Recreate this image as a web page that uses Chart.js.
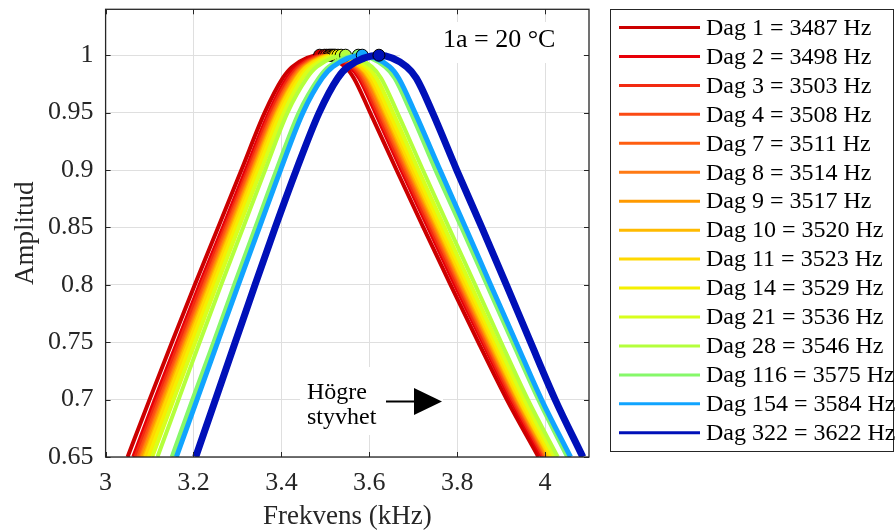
<!DOCTYPE html>
<html>
<head>
<meta charset="utf-8">
<script src="https://cdn.jsdelivr.net/npm/chart.js@4"></script>
<style>
  html, body { margin: 0; padding: 0; background: #fff; }
  canvas { display: block; }
</style>
</head>
<body>
<canvas id="chart" width="895" height="530"></canvas>
<script>
// amplitude levels shared by every curve (left flank, peak, right flank)
const ampLevels = [0.65, 0.70, 0.75, 0.80, 0.85, 0.90, 0.95, 0.98, 0.99, 1.00, 0.99, 0.98, 0.95, 0.90, 0.85, 0.80, 0.75, 0.70, 0.65];

const days = [1, 2, 3, 4, 7, 8, 9, 10, 11, 14, 21, 28, 116, 154, 322];
const peakHz = [3487, 3498, 3503, 3508, 3511, 3514, 3517, 3520, 3523, 3529, 3536, 3546, 3575, 3584, 3622];

// frequency (kHz) at the amplitude levels above
const curveFreqs = [
    [3.050, 3.100, 3.151, 3.203, 3.256, 3.309, 3.362, 3.403, 3.425, 3.487, 3.545, 3.565, 3.602, 3.662, 3.723, 3.785, 3.848, 3.913, 3.985],
    [3.063, 3.112, 3.163, 3.214, 3.267, 3.319, 3.372, 3.413, 3.435, 3.498, 3.556, 3.577, 3.614, 3.673, 3.734, 3.795, 3.858, 3.922, 3.993],
    [3.068, 3.118, 3.168, 3.219, 3.272, 3.324, 3.376, 3.418, 3.440, 3.503, 3.562, 3.582, 3.619, 3.678, 3.739, 3.800, 3.862, 3.926, 3.997],
    [3.074, 3.123, 3.174, 3.225, 3.276, 3.328, 3.381, 3.423, 3.445, 3.508, 3.567, 3.587, 3.624, 3.683, 3.744, 3.805, 3.867, 3.930, 4.001],
    [3.078, 3.127, 3.177, 3.228, 3.279, 3.331, 3.383, 3.425, 3.448, 3.511, 3.570, 3.590, 3.627, 3.686, 3.747, 3.808, 3.869, 3.933, 4.003],
    [3.081, 3.130, 3.180, 3.231, 3.282, 3.334, 3.386, 3.428, 3.451, 3.514, 3.573, 3.593, 3.630, 3.689, 3.750, 3.810, 3.872, 3.935, 4.005],
    [3.084, 3.133, 3.183, 3.234, 3.285, 3.336, 3.389, 3.431, 3.453, 3.517, 3.576, 3.597, 3.634, 3.692, 3.753, 3.813, 3.874, 3.937, 4.007],
    [3.088, 3.137, 3.186, 3.237, 3.288, 3.339, 3.391, 3.434, 3.456, 3.520, 3.579, 3.600, 3.637, 3.695, 3.756, 3.816, 3.877, 3.940, 4.010],
    [3.091, 3.140, 3.190, 3.240, 3.291, 3.342, 3.394, 3.436, 3.459, 3.523, 3.582, 3.603, 3.640, 3.699, 3.759, 3.819, 3.880, 3.942, 4.012],
    [3.098, 3.147, 3.196, 3.246, 3.296, 3.347, 3.399, 3.442, 3.465, 3.529, 3.589, 3.609, 3.646, 3.705, 3.764, 3.825, 3.885, 3.947, 4.016],
    [3.106, 3.155, 3.204, 3.253, 3.303, 3.354, 3.406, 3.448, 3.471, 3.536, 3.596, 3.617, 3.654, 3.712, 3.771, 3.831, 3.891, 3.953, 4.022],
    [3.118, 3.166, 3.214, 3.263, 3.313, 3.363, 3.414, 3.458, 3.481, 3.546, 3.606, 3.627, 3.664, 3.722, 3.781, 3.841, 3.900, 3.961, 4.029],
    [3.151, 3.198, 3.246, 3.293, 3.341, 3.389, 3.440, 3.485, 3.508, 3.575, 3.636, 3.658, 3.695, 3.751, 3.810, 3.868, 3.926, 3.985, 4.051],
    [3.161, 3.208, 3.255, 3.302, 3.350, 3.398, 3.449, 3.493, 3.517, 3.584, 3.646, 3.667, 3.704, 3.761, 3.819, 3.876, 3.934, 3.992, 4.058],
    [3.205, 3.250, 3.295, 3.340, 3.386, 3.434, 3.486, 3.528, 3.552, 3.622, 3.685, 3.707, 3.744, 3.799, 3.856, 3.912, 3.967, 4.023, 4.086]
];

const lineColors = ['#cc0000', '#e80008', '#f22a12', '#fb4a14', '#ff5e10', '#ff7a14', '#ff9a00', '#ffba00', '#ffd800', '#f5f000',
                    '#d8ff1c', '#b4ff3c', '#86f86a', '#10a4ff', '#0010b8'];
const lineWidths = [4, 4, 4, 4, 4, 4, 4, 4, 4, 4, 4, 4, 4.5, 5, 7];

const xTicks = [3, 3.2, 3.4, 3.6, 3.8, 4];
const yTicks = [0.65, 0.7, 0.75, 0.8, 0.85, 0.9, 0.95, 1];
const PEAK = 9;

const SERIF = "'Liberation Serif', 'Times New Roman', serif";
const AXIS_COLOR = '#262626';

const datasets = days.map((d, i) => ({
    label: `Dag ${d} = ${peakHz[i]} Hz`,
    data: curveFreqs[i].map((f, k) => ({ x: f, y: ampLevels[k] })),
    borderColor: lineColors[i],
    backgroundColor: lineColors[i],
    borderWidth: lineWidths[i],
    cubicInterpolationMode: 'monotone',
    fill: false,
    order: days.length - i,
    pointRadius: ctx => ctx.dataIndex === PEAK ? 6 : 0,
    pointBackgroundColor: lineColors[i],
    pointBorderColor: '#000',
    pointBorderWidth: 1
}));

// white boxes behind the text annotations (drawn over grid, under curves)
const boxPlugin = {
    id: 'boxes',
    beforeDatasetsDraw(chart) {
        const ctx = chart.ctx;
        ctx.save();
        ctx.fillStyle = '#fff';
        ctx.fillRect(400, 22, 183, 41);
        ctx.fillRect(300, 367, 143, 68);
        ctx.restore();
    }
};

// axes box with inward ticks, annotations and legend
const decoPlugin = {
    id: 'deco',
    afterDatasetsDraw(chart) {
        const ctx = chart.ctx;
        const a = chart.chartArea;
        const xs = chart.scales.x, ys = chart.scales.y;
        ctx.save();

        ctx.strokeStyle = AXIS_COLOR;
        ctx.lineWidth = 1;
        ctx.beginPath();
        xTicks.forEach(v => {
            const px = Math.round(xs.getPixelForValue(v)) + 0.5;
            ctx.moveTo(px, a.bottom); ctx.lineTo(px, a.bottom - 5);
            ctx.moveTo(px, a.top); ctx.lineTo(px, a.top + 5);
        });
        yTicks.forEach(v => {
            const py = Math.round(ys.getPixelForValue(v)) + 0.5;
            ctx.moveTo(a.left, py); ctx.lineTo(a.left + 5, py);
            ctx.moveTo(a.right, py); ctx.lineTo(a.right - 5, py);
        });
        ctx.stroke();
        ctx.lineWidth = 1.3;
        ctx.strokeRect(a.left, a.top, a.right - a.left, a.bottom - a.top);

        // text annotations
        ctx.fillStyle = '#000';
        ctx.textBaseline = 'alphabetic';
        ctx.textAlign = 'left';
        ctx.font = `26px ${SERIF}`;
        ctx.fillText('1a = 20 °C', 443, 47);
        ctx.font = `24px ${SERIF}`;
        ctx.fillText('Högre', 307, 399);
        ctx.fillText('styvhet', 307, 424);

        // arrow
        ctx.strokeStyle = '#000';
        ctx.lineWidth = 2;
        ctx.beginPath();
        ctx.moveTo(386, 401.5); ctx.lineTo(416, 401.5);
        ctx.stroke();
        ctx.beginPath();
        ctx.moveTo(414, 388); ctx.lineTo(442, 401.5); ctx.lineTo(414, 415);
        ctx.closePath();
        ctx.fill();

        // legend
        ctx.fillStyle = '#fff';
        ctx.fillRect(611, 10, 282, 442);
        ctx.strokeStyle = AXIS_COLOR;
        ctx.lineWidth = 1;
        ctx.strokeRect(610.5, 9.5, 283, 442);
        ctx.font = `24px ${SERIF}`;
        ctx.textBaseline = 'middle';
        chart.data.datasets.forEach((ds, i) => {
            const y = 27.5 + i * 28.95;
            ctx.strokeStyle = ds.borderColor;
            ctx.lineWidth = 3;
            ctx.beginPath();
            ctx.moveTo(619, y); ctx.lineTo(700, y);
            ctx.stroke();
            ctx.fillStyle = '#000';
            ctx.fillText(ds.label, 706, y + 1);
        });
        ctx.restore();
    }
};

new Chart(document.getElementById('chart'), {
    type: 'line',
    data: { datasets },
    plugins: [boxPlugin, decoPlugin],
    options: {
        responsive: false,
        animation: false,
        devicePixelRatio: 1,
        layout: { padding: { left: 0, right: 306, top: 9.3, bottom: 0 } },
        plugins: { legend: { display: false }, tooltip: { enabled: false } },
        scales: {
            x: {
                type: 'linear',
                min: 3,
                max: 4.1,
                afterFit: s => { s.height = 73; s.paddingLeft = 0; s.paddingRight = 0; },
                afterBuildTicks: s => { s.ticks = xTicks.map(v => ({ value: v })); },
                grid: { color: '#dfdfdf', drawTicks: false },
                border: { display: false },
                ticks: {
                    padding: 11,
                    color: AXIS_COLOR,
                    font: { family: SERIF, size: 26 },
                    callback: v => String(+v.toFixed(2))
                },
                title: {
                    display: true,
                    text: 'Frekvens (kHz)',
                    color: AXIS_COLOR,
                    font: { family: SERIF, size: 27, lineHeight: 1 },
                    padding: { top: 0, bottom: 0 }
                }
            },
            y: {
                min: 0.65,
                max: 1.04,
                afterFit: s => { s.width = 105.6; s.paddingTop = 0; s.paddingBottom = 0; },
                afterBuildTicks: s => { s.ticks = yTicks.map(v => ({ value: v })); },
                grid: { color: '#dfdfdf', drawTicks: false },
                border: { display: false },
                ticks: {
                    padding: 12,
                    color: AXIS_COLOR,
                    font: { family: SERIF, size: 26 },
                    callback: v => String(+v.toFixed(2))
                },
                title: {
                    display: true,
                    text: 'Amplitud',
                    color: AXIS_COLOR,
                    font: { family: SERIF, size: 27, lineHeight: 1 },
                    padding: { top: 12, bottom: 0 }
                }
            }
        }
    }
});
</script>
</body>
</html>
